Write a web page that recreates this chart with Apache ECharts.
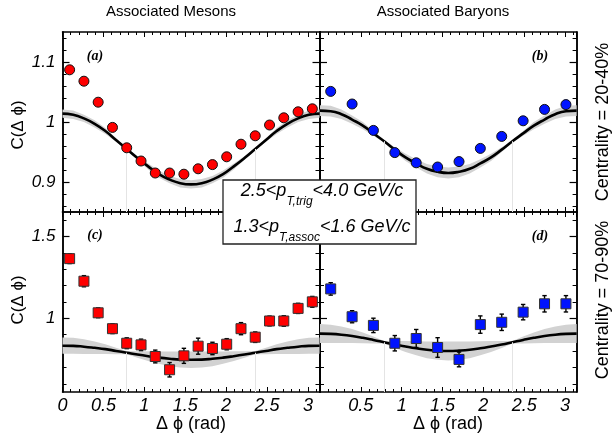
<!DOCTYPE html>
<html><head><meta charset="utf-8">
<script src="https://cdn.jsdelivr.net/npm/echarts@6/dist/echarts.min.js"></script>
<style>html,body{margin:0;padding:0;background:#fff}#c{width:613px;height:441px}</style>
</head><body><div id="c"></div><script>
// ---------------- data ----------------
const mesonX = [0.087,0.262,0.436,0.611,0.785,0.960,1.134,1.309,1.484,1.658,1.833,2.007,2.182,2.356,2.531,2.705,2.880,3.054];
const baryonX = [0.131,0.393,0.654,0.916,1.178,1.440,1.702,1.963,2.225,2.487,2.749,3.011];
const mesonsCentral = [1.087,1.068,1.033,0.991,0.957,0.935,0.915,0.915,0.913,0.922,0.929,0.942,0.963,0.977,0.995,1.007,1.017,1.022];
const baryonsCentral = [1.051,1.030,0.986,0.949,0.932,0.925,0.934,0.956,0.976,1.002,1.021,1.029];
const mesonsPeripheral = [1.365,1.227,1.034,0.937,0.848,0.838,0.767,0.686,0.771,0.830,0.816,0.842,0.937,0.885,0.984,0.984,1.061,1.101];
const mesonsPeripheralErr = [0.030,0.034,0.030,0.030,0.033,0.035,0.039,0.044,0.046,0.049,0.038,0.034,0.037,0.032,0.030,0.032,0.031,0.033];
const baryonsPeripheral = [1.180,1.010,0.957,0.848,0.877,0.822,0.749,0.962,0.976,1.038,1.089,1.089];
const baryonsPeripheralErr = [0.038,0.037,0.044,0.047,0.055,0.060,0.045,0.053,0.050,0.047,0.050,0.050];

const curveX = [0,0.131,0.262,0.393,0.524,0.654,0.785,0.916,1.047,1.178,1.309,1.440,1.571,1.702,1.833,1.963,2.094,2.225,2.356,2.487,2.618,2.749,2.880,3.011,3.142];
const curveA = [1.014,1.012,1.006,0.997,0.985,0.970,0.955,0.940,0.926,0.913,0.904,0.898,0.896,0.898,0.904,0.913,0.926,0.940,0.955,0.970,0.985,0.997,1.006,1.012,1.014];
const curveB = [1.019,1.018,1.013,1.004,0.994,0.981,0.968,0.954,0.941,0.931,0.922,0.917,0.915,0.917,0.922,0.931,0.941,0.954,0.968,0.981,0.994,1.004,1.013,1.018,1.019];
const curveC = [0.833,0.832,0.827,0.820,0.812,0.801,0.790,0.779,0.769,0.760,0.753,0.748,0.747,0.748,0.753,0.760,0.769,0.779,0.790,0.801,0.812,0.820,0.827,0.832,0.833];
const curveD = [0.907,0.905,0.900,0.892,0.881,0.868,0.854,0.840,0.828,0.817,0.808,0.803,0.801,0.803,0.808,0.817,0.828,0.840,0.854,0.868,0.881,0.892,0.900,0.905,0.907];
const bandA = [0.007,0.007,0.006,0.006,0.005,0.003,0.002,0.003,0.005,0.006,0.006,0.007,0.007,0.007,0.006,0.006,0.005,0.003,0.002,0.003,0.005,0.006,0.006,0.007,0.007];
const bandB = [0.009,0.009,0.008,0.007,0.006,0.004,0.002,0.004,0.006,0.007,0.008,0.009,0.009,0.009,0.008,0.007,0.006,0.004,0.002,0.004,0.006,0.007,0.008,0.009,0.009];
const bandC = [0.050,0.049,0.045,0.038,0.030,0.020,0.010,0.020,0.030,0.038,0.045,0.049,0.050,0.049,0.045,0.038,0.030,0.020,0.010,0.020,0.030,0.038,0.045,0.049,0.050];
const bandD = [0.058,0.056,0.051,0.043,0.033,0.021,0.008,0.021,0.033,0.043,0.051,0.056,0.058,0.056,0.051,0.043,0.033,0.021,0.008,0.021,0.033,0.043,0.051,0.056,0.058];

const xTickLabels = [0,0.5,1,1.5,2,2.5,3];
const yTopMajor = [0.9,1.0,1.1];
const yTopMinor = [0.86,0.88,0.92,0.94,0.96,0.98,1.02,1.04,1.06,1.08,1.12,1.14];
const yBotMajor = [1.0,1.5];
const yBotMinor = [0.6,0.7,0.8,0.9,1.1,1.2,1.3,1.4,1.6];
const yTopRange = [0.85,1.15];
const yBotRange = [0.55,1.65];

// ---------------- layout ----------------
const FONT = 'Liberation Sans, Arial, sans-serif';
const grids = [
  {left:62.5, top:32, width:257, height:180},
  {left:320, top:32, width:256.6, height:180},
  {left:62.5, top:212, width:257, height:180},
  {left:320, top:212, width:256.6, height:180}
];
const panels = [
  {xs:mesonX, ys:mesonsCentral, err:null, curve:curveA, band:bandA, color:'#ff0000', symbol:'circle', range:yTopRange, major:yTopMajor, minor:yTopMinor, xLabels:false, yLabels:true, hideZero:false},
  {xs:baryonX, ys:baryonsCentral, err:null, curve:curveB, band:bandB, color:'#0014ff', symbol:'circle', range:yTopRange, major:yTopMajor, minor:yTopMinor, xLabels:false, yLabels:false, hideZero:false},
  {xs:mesonX, ys:mesonsPeripheral, err:mesonsPeripheralErr, curve:curveC, band:bandC, color:'#ff0000', symbol:'rect', range:yBotRange, major:yBotMajor, minor:yBotMinor, xLabels:true, yLabels:true, hideZero:false},
  {xs:baryonX, ys:baryonsPeripheral, err:baryonsPeripheralErr, curve:curveD, band:bandD, color:'#0014ff', symbol:'rect', range:yBotRange, major:yBotMajor, minor:yBotMinor, xLabels:true, yLabels:false, hideZero:true}
];

const xAxis = [], yAxis = [], series = [];
const axisLine = {show:true, onZero:false, lineStyle:{color:'#000', width:1.5}};
panels.forEach((p, gi) => {
  ['bottom','top'].forEach(pos => {
    xAxis.push({
      type:'value', gridIndex:gi, position:pos, min:0, max:Math.PI, interval:0.5,
      axisLine, splitLine:{show:false},
      axisTick:{show:true, inside:true, length:5, lineStyle:{color:'#000', width:1}},
      minorTick:{show:true, splitNumber:5, length:3, lineStyle:{color:'#000', width:1}},
      axisLabel:{
        show: pos==='bottom' && p.xLabels, margin:5, fontSize:18, fontStyle:'italic', color:'#000', fontFamily:FONT,
        formatter: v => {
          const hit = xTickLabels.find(t => Math.abs(t - v) < 1e-6);
          if (hit === undefined) return '';
          if (p.hideZero && hit === 0) return '';
          return String(hit);
        }
      }
    });
  });
  ['left','right'].forEach(pos => {
    yAxis.push({
      type:'value', gridIndex:gi, position:pos, min:p.range[0], max:p.range[1],
      axisLine, splitLine:{show:false},
      axisTick:{show:true, inside:true, length:7, customValues:p.major, lineStyle:{color:'#000', width:1.2}},
      axisLabel:{show: pos==='left' && p.yLabels, customValues:p.major, margin:7, fontSize:17, fontStyle:'italic', color:'#000', fontFamily:FONT,
        formatter: v => String(Math.round(v*10)/10)}
    });
    yAxis.push({
      type:'value', gridIndex:gi, position:pos, min:p.range[0], max:p.range[1],
      axisLine, splitLine:{show:false},
      axisTick:{show:true, inside:true, length:4, customValues:p.minor, lineStyle:{color:'#000', width:1}},
      axisLabel:{show:false}
    });
  });
  const xi = gi*2, yi = gi*4;
  // faint reference lines at pi/4 and 3pi/4
  series.push({
    type:'line', xAxisIndex:xi, yAxisIndex:yi, data:[], silent:true, z:1,
    markLine:{silent:true, symbol:'none', label:{show:false}, animation:false,
      lineStyle:{color:'#e4e4e4', width:1, type:'solid'},
      data:[
        [{coord:[curveX[6], p.range[0]]},{coord:[curveX[6], p.curve[6]]}],
        [{coord:[curveX[18], p.range[0]]},{coord:[curveX[18], p.curve[18]]}]
      ]}
  });
  // uncertainty band (polygon through the axis scales)
  series.push({type:'custom', xAxisIndex:xi, yAxisIndex:yi, z:2, silent:true,
    data: curveX.map((x,i)=>[x, p.curve[i], p.band[i]]),
    renderItem:(params, api) => {
      if (params.dataIndex !== 0) return null;
      const up = curveX.map((x,i)=>api.coord([x, p.curve[i] + p.band[i]]));
      const lo = curveX.map((x,i)=>api.coord([x, p.curve[i] - p.band[i]])).reverse();
      return {type:'polygon', shape:{points: up.concat(lo)}, style:{fill:'#d2d2d2', stroke:null}};
    }});
  // curve
  series.push({type:'line', xAxisIndex:xi, yAxisIndex:yi, smooth:true, symbol:'none', z:3,
    lineStyle:{color:'#000', width:2.6}, data: curveX.map((x,i)=>[x, p.curve[i]])});
  // error bars
  if (p.err) {
    series.push({type:'custom', xAxisIndex:xi, yAxisIndex:yi, z:4,
      data: p.xs.map((x,i)=>[x, p.ys[i], p.err[i]]),
      renderItem:(params, api) => {
        const x = api.value(0), y = api.value(1), e = api.value(2);
        const t = api.coord([x, y+e]), b = api.coord([x, y-e]);
        const w = 2.2, st = {stroke:'#000', lineWidth:1.4};
        return {type:'group', children:[
          {type:'line', shape:{x1:t[0],y1:t[1],x2:b[0],y2:b[1]}, style:st},
          {type:'line', shape:{x1:t[0]-w,y1:t[1],x2:t[0]+w,y2:t[1]}, style:st},
          {type:'line', shape:{x1:b[0]-w,y1:b[1],x2:b[0]+w,y2:b[1]}, style:st}
        ]};
      }});
  }
  // points
  series.push({type:'scatter', xAxisIndex:xi, yAxisIndex:yi, z:5, symbol:p.symbol, symbolSize:10,
    itemStyle:{color:p.color, borderColor: p.symbol==='rect' ? '#333' : '#111', borderWidth:1, opacity:1},
    data: p.xs.map((x,i)=>[x, p.ys[i]])});
});

const txt = (x, y, text, extra) => Object.assign({type:'text', x, y, z:100,
  style:Object.assign({text, fill:'#000', font:'16px '+FONT, align:'center', verticalAlign:'middle'}, extra||{})});
const panelLabel = (x, y, t) => txt(x, y, t, {font:'italic bold 14px Liberation Serif, Times New Roman, serif'});

const rich = {
  m:{fontSize:18, fontStyle:'italic', fontFamily:FONT, lineHeight:34, fill:'#000', color:'#000'},
  s:{fontSize:12, fontStyle:'italic', fontFamily:FONT, lineHeight:12, verticalAlign:'bottom', fill:'#000', color:'#000'}
};

const graphic = [
  txt(171, 12, 'Associated Mesons', {font:'15px '+FONT}),
  txt(443, 12, 'Associated Baryons', {font:'15px '+FONT}),
  Object.assign(txt(18, 125, 'C(Δ ϕ)', {font:'17px '+FONT}), {rotation:Math.PI/2}),
  Object.assign(txt(18, 300, 'C(Δ ϕ)', {font:'17px '+FONT}), {rotation:Math.PI/2}),
  Object.assign(txt(603, 122, 'Centrality = 20-40%', {font:'18px '+FONT}), {rotation:Math.PI/2}),
  Object.assign(txt(603, 300, 'Centrality = 70-90%', {font:'18px '+FONT}), {rotation:Math.PI/2}),
  txt(191, 424, 'Δ ϕ (rad)', {font:'18px '+FONT}),
  txt(448, 424, 'Δ ϕ (rad)', {font:'18px '+FONT}),
  panelLabel(95, 56, '(a)'),
  panelLabel(540, 56, '(b)'),
  panelLabel(95, 235, '(c)'),
  panelLabel(540, 236, '(d)'),
  {type:'rect', z:99, shape:{x:223, y:180, width:193, height:64}, style:{fill:'#fff', stroke:'#222', lineWidth:1.3}},
  {type:'text', z:101, x:322, y:190.5, style:{text:'{m|2.5<p}{s|T,trig}{m|<4.0 GeV/c}', rich, align:'center', verticalAlign:'middle'}},
  {type:'text', z:101, x:322, y:227, style:{text:'{m|1.3<p}{s|T,assoc}{m|<1.6 GeV/c}', rich, align:'center', verticalAlign:'middle'}}
];

const chart = echarts.init(document.getElementById('c'), null, {renderer:'canvas'});
chart.setOption({animation:false, backgroundColor:'#fff', grid:grids, xAxis, yAxis, series, graphic});
</script></body></html>
